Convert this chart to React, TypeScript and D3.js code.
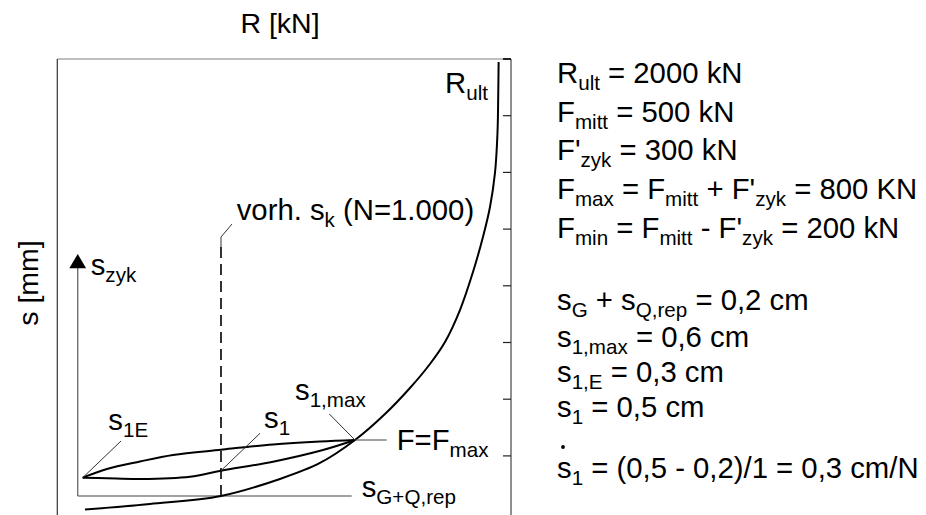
import React from 'react';
import * as d3 from 'd3';

// Schematic load–settlement diagram: R on the horizontal axis, s upward.
const W = 926;
const H = 515;

const R_DOMAIN: [number, number] = [0, 100];
const S_DOMAIN: [number, number] = [0, 8];
const S_TICKS = [1, 2, 3, 4, 5, 6, 7, 8];

// Monotonic loading curve up to R_ult: [R, s]
const R_CURVE: [number, number][] = [
  [6.11, 0.055], [20.43, 0.152], [36.08, 0.293], [49.08, 0.593], [57.9, 0.875],
  [65.61, 1.28], [72.22, 1.739], [77.73, 2.198], [82.14, 2.621], [85.45, 3.009],
  [88.75, 3.573], [91.62, 4.243], [93.82, 4.861], [95.37, 5.39], [96.47, 5.99],
  [97.02, 6.695], [97.2, 7.453], [97.27, 7.947],
];

// Hysteresis loop between F_min and F_max
const LOOP_UPPER: [number, number][] = [
  [5.6, 0.616], [10.95, 0.769], [18.23, 0.901], [25.5, 1.016], [36.08, 1.109],
  [47.54, 1.201], [57.9, 1.254], [65.61, 1.28],
];
const LOOP_LOWER: [number, number][] = [
  [5.6, 0.616], [10.95, 0.605], [18.23, 0.593], [29.25, 0.633], [36.08, 0.739],
  [47.54, 0.898], [58.56, 1.104], [65.61, 1.28],
];

const S1E_POINT: [number, number] = [5.6, 0.616];
const S1_POINT: [number, number] = [36.08, 0.739];
const FMAX_POINT: [number, number] = [65.61, 1.28];
const SGQ_POINT: [number, number] = [36.08, 0.293];
const SK_TOP = 4.684;
const S_ZYK_R = 4.5;
const S_ZYK_TOP = 4.56;

type Seg = [string, boolean];

const INFO_TOP: Seg[][] = [
  [['R', false], ['ult', true], [' = 2000 kN', false]],
  [['F', false], ['mitt', true], [' = 500 kN', false]],
  [["F'", false], ['zyk', true], [' = 300 kN', false]],
  [['F', false], ['max', true], [' = F', false], ['mitt', true], [" + F'", false], ['zyk', true], [' = 800 KN', false]],
  [['F', false], ['min', true], [' = F', false], ['mitt', true], [" - F'", false], ['zyk', true], [' = 200 kN', false]],
];
const INFO_BOTTOM: Seg[][] = [
  [['s', false], ['G', true], [' + s', false], ['Q,rep', true], [' = 0,2 cm', false]],
  [['s', false], ['1,max', true], [' = 0,6 cm', false]],
  [['s', false], ['1,E', true], [' = 0,3 cm', false]],
  [['s', false], ['1', true], [' = 0,5 cm', false]],
  [['s', false], ['1', true], [' = (0,5 - 0,2)/1 = 0,3 cm/N', false]],
];
const INFO_TOP_Y = [83.3, 121.7, 160, 199, 238];
const INFO_BOTTOM_Y = [310, 346.7, 381.7, 416.7, 478];

const FONT = "'Liberation Sans', Arial, Helvetica, sans-serif";
const MAIN = 29.3;
const SUB = 20.6;
const SHIFT = 7;

function Rich({ x, y, segs }: { x: number; y: number; segs: Seg[] }) {
  let inSub = false;
  return (
    <text x={x} y={y} fontSize={MAIN} fill="#000" style={{ whiteSpace: 'pre' }}>
      {segs.map(([t, sub], i) => {
        let dy = 0;
        if (sub && !inSub) dy = SHIFT;
        else if (!sub && inSub) dy = -SHIFT;
        inSub = sub;
        return (
          <tspan key={i} dy={dy || undefined} fontSize={sub ? SUB : MAIN}>
            {t}
          </tspan>
        );
      })}
    </text>
  );
}

export default function App() {
  const x = d3.scaleLinear().domain(R_DOMAIN).range([57.3, 511]);
  const y = d3.scaleLinear().domain(S_DOMAIN).range([512.6, 59]);

  const line = d3
    .line<[number, number]>()
    .x((d) => x(d[0]))
    .y((d) => y(d[1]))
    .curve(d3.curveCatmullRom.alpha(0.5));

  const left = x(R_DOMAIN[0]);
  const right = x(R_DOMAIN[1]);
  const top = y(S_DOMAIN[1]);

  const [s1ex, s1ey] = [x(S1E_POINT[0]), y(S1E_POINT[1])];
  const [s1x, s1y] = [x(S1_POINT[0]), y(S1_POINT[1])];
  const [fx, fy] = [x(FMAX_POINT[0]), y(FMAX_POINT[1])];
  const [gx, gy] = [x(SGQ_POINT[0]), y(SGQ_POINT[1])];
  const skTop = y(SK_TOP);
  const ax = x(S_ZYK_R);
  const aTop = y(S_ZYK_TOP);

  return (
    <svg
      width={W}
      height={H}
      style={{ position: 'absolute', left: 0, top: 0, background: '#fff' }}
      fontFamily={FONT}
    >
      {/* frame */}
      <line x1={left} y1={top} x2={right} y2={top} stroke="#808080" strokeWidth={1.2} />
      <line x1={left} y1={top} x2={left} y2={H} stroke="#333" strokeWidth={1.2} />
      <line x1={right} y1={top} x2={right} y2={H} stroke="#444" strokeWidth={1.2} />
      {S_TICKS.map((t) => (
        <line key={t} x1={right - 8} x2={right} y1={y(t)} y2={y(t)} stroke="#222" strokeWidth={t === 8 ? 2 : 1.2} />
      ))}

      {/* axis titles */}
      <text x={280} y={33.3} fontSize={28.5} textAnchor="middle">R [kN]</text>
      <text transform={`translate(38,283) rotate(-90)`} fontSize={28.5} textAnchor="middle">s [mm]</text>

      {/* s_zyk axis */}
      <line x1={ax} y1={gy} x2={ax} y2={aTop + 12} stroke="#666" strokeWidth={1.3} />
      <path d={`M${ax},${aTop} L${ax - 8.4},${aTop + 14.3} L${ax + 8.4},${aTop + 14.3} Z`} fill="#000" />

      {/* s_G+Q,rep reference line */}
      <line x1={ax} y1={gy} x2={351.7} y2={gy} stroke="#444" strokeWidth={1.1} />

      {/* N = 1000 marker */}
      <line x1={gx} y1={gy} x2={gx} y2={skTop} stroke="#000" strokeWidth={1.6} strokeDasharray="11 6" />
      <polyline points={`${gx},${skTop} ${gx},${skTop - 10} ${gx + 11},${skTop - 23}`} fill="none" stroke="#333" strokeWidth={1} />

      {/* curves */}
      <path d={line(R_CURVE) ?? ''} fill="none" stroke="#000" strokeWidth={2} />
      <path d={line(LOOP_UPPER) ?? ''} fill="none" stroke="#000" strokeWidth={2} />
      <path d={line(LOOP_LOWER) ?? ''} fill="none" stroke="#000" strokeWidth={2} />

      {/* leaders */}
      <line x1={s1ex} y1={s1ey} x2={121} y2={441} stroke="#333" strokeWidth={1} />
      <line x1={s1x} y1={s1y} x2={260} y2={433.3} stroke="#333" strokeWidth={1} />
      <line x1={fx} y1={fy} x2={329.3} y2={414} stroke="#333" strokeWidth={1} />
      <line x1={fx} y1={fy} x2={386.7} y2={fy} stroke="#444" strokeWidth={1.1} />

      {/* labels inside the diagram */}
      <Rich x={445} y={93.3} segs={[['R', false], ['ult', true]]} />
      <Rich x={236.7} y={220} segs={[['vorh. s', false], ['k', true], [' (N=1.000)', false]]} />
      <Rich x={90.7} y={275} segs={[['s', false], ['zyk', true]]} />
      <Rich x={108.3} y={430} segs={[['s', false], ['1E', true]]} />
      <Rich x={264} y={428} segs={[['s', false], ['1', true]]} />
      <Rich x={295} y={400} segs={[['s', false], ['1,max', true]]} />
      <Rich x={396.7} y={450} segs={[['F=F', false], ['max', true]]} />
      <Rich x={361.7} y={497} segs={[['s', false], ['G+Q,rep', true]]} />

      {/* parameter listing */}
      {INFO_TOP.map((segs, i) => (
        <Rich key={`t${i}`} x={557} y={INFO_TOP_Y[i]} segs={segs} />
      ))}
      {INFO_BOTTOM.map((segs, i) => (
        <Rich key={`b${i}`} x={557} y={INFO_BOTTOM_Y[i]} segs={segs} />
      ))}
      {/* time-derivative dot over s */}
      <circle cx={563} cy={447} r={1.9} fill="#000" />
    </svg>
  );
}
